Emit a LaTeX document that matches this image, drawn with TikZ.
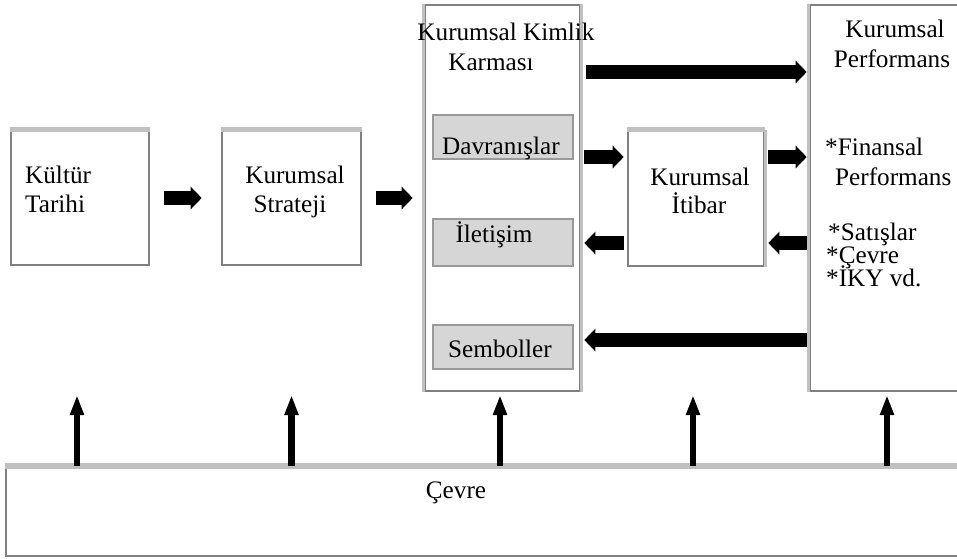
\documentclass[tikz,border=0pt]{standalone}
\usepackage{fontspec}
\setmainfont{Liberation Serif}
\usetikzlibrary{arrows.meta}

\definecolor{edgedark}{HTML}{808080}
\definecolor{edgelight}{HTML}{C0C0C0}
\definecolor{subfill}{HTML}{D6D6D6}
\definecolor{subedge}{HTML}{999999}

\tikzset{
  frame/.style={draw=edgedark, line width=2.6pt, fill=white, inner sep=0pt},
  subbox/.style={draw=subedge, line width=2.6pt, fill=subfill, inner sep=0pt,
    minimum width=140pt},
  lighttop/.style={draw=edgelight, line width=4.5pt},
  lightside/.style={draw=edgelight, line width=3pt},
  lbl/.style={font=\fontsize{25.2}{30}\selectfont, inner sep=0pt, anchor=base},
  lblw/.style={lbl, anchor=base west},
  flow/.style={line width=13.5pt, -{Triangle[length=11pt,width=22pt]}},
  rise/.style={line width=6.5pt, -{Triangle[length=20pt,width=13pt]}}
}

\begin{document}
\begin{tikzpicture}[x=1pt,y=-1pt]
\useasboundingbox (0,0) rectangle (957,558);

% main boxes
\node[frame, minimum width=138pt, minimum height=134pt] (kultur)   at (80,198) {};
\node[frame, minimum width=139pt, minimum height=134pt] (strateji) at (291.5,198) {};
\node[frame, minimum width=155pt, minimum height=386pt] (kimlik)   at (502.5,198) {};
\node[frame, minimum width=136pt, minimum height=135pt] (itibar)   at (696,198.5) {};
\node[frame, minimum width=160pt, minimum height=386pt] (perf)     at (890,198) {};
\node[frame, minimum width=970pt, minimum height=89pt]  (cevre)    at (491,511.5) {};

% lighter edges
\draw[lighttop] (kultur.north west) -- (kultur.north east);
\draw[lighttop] (strateji.north west) -- (strateji.north east);
\draw[lightside] (kimlik.north west) -- (kimlik.south west);
\draw[lightside] (kimlik.north east) -- (kimlik.south east);
\draw[lighttop] (itibar.north west) -- (itibar.north east);
\draw[lightside] (itibar.north east) -- (itibar.south east);
\draw[lightside] (perf.north west) -- (perf.south west);
\draw[lighttop, line width=6pt] (cevre.north west) -- (cevre.north east);

% inner boxes of the identity mix
\node[subbox, minimum height=44pt] (davr)  at (503,137) {};
\node[subbox, minimum height=47pt] (ilet)  at (503,242.5) {};
\node[subbox, minimum height=44pt] (semb)  at (503,347) {};

% labels
\node[lblw] (t1a) at (25,183) {Kültür};
\node[lblw] (t1b) at (25,212) {Tarihi};
\node[lbl] (t2a) at (295,183) {Kurumsal};
\node[lbl] (t2b) at (290,212) {Strateji};
\node[lbl] (t3a) at (506,40) {Kurumsal Kimlik};
\node[lbl] (t3b) at (491,70) {Karması};
\node[lbl] (t4) at (501,154) {Davranışlar};
\node[lbl] (t5) at (494,242) {İletişim};
\node[lbl] (t6) at (500,357) {Semboller};
\node[lbl] (t7a) at (700,185) {Kurumsal};
\node[lbl] (t7b) at (699,213) {İtibar};
\node[lbl] (t8a) at (895,37) {Kurumsal};
\node[lbl] (t8b) at (892,67) {Performans};
\node[lblw] (t9a) at (825,155) {*Finansal};
\node[lblw] (t9b) at (835,185) {Performans};
\node[lblw] (t9c) at (828,240) {*Satışlar};
\node[lblw] (t9d) at (826,263) {*Çevre};
\node[lblw] (t9e) at (826,286) {*İKY vd.};
\node[lbl] (t10) at (456,498) {Çevre};

% horizontal flows
\draw[flow] ([xshift=14pt]kultur.east) -- ([xshift=-19pt]strateji.west);
\draw[flow] ([xshift=14pt]strateji.east) -- ([xshift=-11pt]kimlik.west);
\draw[flow] ([xshift=5pt,yshift=126pt]kimlik.east) -- ([xshift=-2pt,yshift=126pt]perf.west);
\draw[flow] ([xshift=3pt,yshift=41pt]kimlik.east) -- ([xshift=-3pt,yshift=41.5pt]itibar.west);
\draw[flow] ([xshift=3pt,yshift=41.5pt]itibar.east) -- ([xshift=-2pt,yshift=41pt]perf.west);
\draw[flow] ([xshift=-3pt,yshift=-44.5pt]itibar.west) -- ([xshift=3pt,yshift=-45pt]kimlik.east);
\draw[flow] ([xshift=-2pt,yshift=-45pt]perf.west) -- ([xshift=3pt,yshift=-44.5pt]itibar.east);
\draw[flow] ([xshift=-2pt,yshift=-142pt]perf.west) -- ([xshift=3pt,yshift=-142pt]kimlik.east);

% environment influences
\coordinate (tipline) at (0,395);
\draw[rise] ([xshift=-3pt]kultur.south |- cevre.north) -- ([xshift=-3pt]kultur.south |- tipline);
\draw[rise] (strateji.south |- cevre.north) -- (strateji.south |- tipline);
\draw[rise] ([xshift=-2.5pt]kimlik.south |- cevre.north) -- ([xshift=-2.5pt]kimlik.south |- tipline);
\draw[rise] ([xshift=-3pt]itibar.south |- cevre.north) -- ([xshift=-3pt]itibar.south |- tipline);
\draw[rise] ([xshift=-3pt]perf.south |- cevre.north) -- ([xshift=-3pt]perf.south |- tipline);
\end{tikzpicture}
\end{document}
